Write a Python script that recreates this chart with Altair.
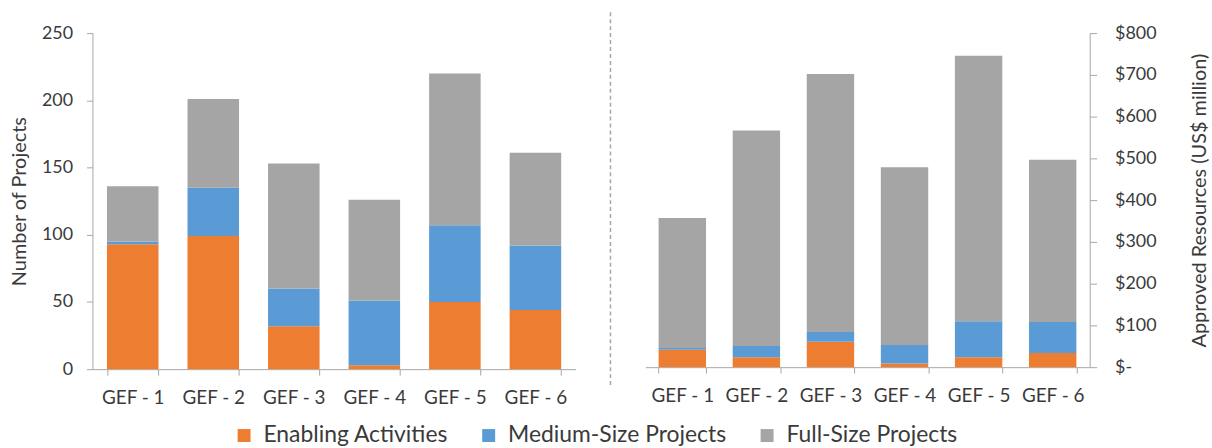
import altair as alt
import pandas as pd

periods = ["GEF - 1", "GEF - 2", "GEF - 3", "GEF - 4", "GEF - 5", "GEF - 6"]
types = ["Enabling Activities", "Medium-Size Projects", "Full-Size Projects"]
colors = ["#ED7D31", "#5B9BD5", "#A5A5A5"]

projects_ea = [93, 99, 32, 3, 50, 44]
projects_msp = [2, 36, 28, 48, 57, 48]
projects_fsp = [41, 66, 93, 75, 113, 69]

resources_ea = [42, 24, 61, 9, 24, 34]
resources_msp = [4, 27, 23, 44, 86, 74]
resources_fsp = [311, 516, 618, 426, 636, 389]

proj_ticks = [0, 50, 100, 150, 200, 250]
res_ticks = [0, 100, 200, 300, 400, 500, 600, 700, 800]


def long_df(series):
    rows = []
    for k, (t, vals) in enumerate(zip(types, series)):
        for p, v in zip(periods, vals):
            rows.append({"period": p, "type": t, "value": v, "k": k})
    return pd.DataFrame(rows)


df_p = long_df([projects_ea, projects_msp, projects_fsp])
df_r = long_df([resources_ea, resources_msp, resources_fsp])

AX = "#A6A6A6"
TXT = "#3a3a3a"

color = alt.Color(
    "type:N",
    scale=alt.Scale(domain=types, range=colors),
    legend=alt.Legend(
        title=None,
        orient="none",
        direction="horizontal",
        legendX=141,
        legendY=393,
        symbolType="square",
        symbolSize=169,
        symbolStrokeWidth=0,
        labelFontSize=23,
        labelColor=TXT,
        labelOffset=8,
        columnPadding=29,
        labelLimit=400,
    ),
)


def xaxis():
    return alt.X(
        "period:N",
        sort=periods,
        scale=alt.Scale(paddingInner=0.36, paddingOuter=0.18),
        axis=alt.Axis(
            title=None,
            labelAngle=0,
            tickBand="extent",
            tickSize=6,
            tickColor=AX,
            domainColor=AX,
            labelPadding=14,
            labelFontSize=19,
            labelColor=TXT,
        ),
    )


left_bars = alt.Chart(df_p).mark_bar().encode(
    x=xaxis(),
    y=alt.Y(
        "value:Q",
        stack="zero",
        scale=alt.Scale(domain=[0, 250], nice=False),
        axis=alt.Axis(
            values=proj_ticks,
            title="Number of Projects",
            grid=False,
            tickSize=6,
            tickColor=AX,
            domainColor=AX,
            labelPadding=14,
            labelFontSize=18,
            labelColor=TXT,
            titleFontSize=20,
            titleFontWeight="normal",
            titleColor=TXT,
            titlePadding=12,
        ),
    ),
    color=color,
    order=alt.Order("k:Q", sort="ascending"),
)

divider = alt.Chart(pd.DataFrame({"a": [0]})).mark_rule(
    color="#A6A6A6", strokeDash=[4, 3], strokeWidth=1.5
).encode(x=alt.value(521), y=alt.value(-21), y2=alt.value(357))

left = alt.layer(left_bars, divider).properties(width=486, height=338)

right = alt.Chart(df_r).mark_bar().encode(
    x=xaxis(),
    y=alt.Y(
        "value:Q",
        stack="zero",
        scale=alt.Scale(domain=[0, 800], nice=False),
        axis=alt.Axis(
            orient="right",
            values=res_ticks,
            labelExpr="datum.value == 0 ? '$-' : '$' + datum.value",
            title="Approved Resources (US$ million)",
            titleAngle=270,
            titleBaseline="top",
            grid=False,
            tickSize=7,
            tickColor=AX,
            domainColor=AX,
            labelPadding=18,
            labelFontSize=18,
            labelColor=TXT,
            titleFontSize=20,
            titleFontWeight="normal",
            titleColor=TXT,
            titlePadding=34,
        ),
    ),
    color=color,
    order=alt.Order("k:Q", sort="ascending"),
).properties(width=447, height=336)

chart = (
    alt.hconcat(left, right, spacing=34)
    .resolve_scale(y="independent")
    .properties(padding={"left": 9, "top": 10, "right": 2, "bottom": 0})
    .configure(font="Lato")
    .configure_view(stroke=None)
)

chart.save("out.html", embed_options={"renderer": "svg", "actions": False})
